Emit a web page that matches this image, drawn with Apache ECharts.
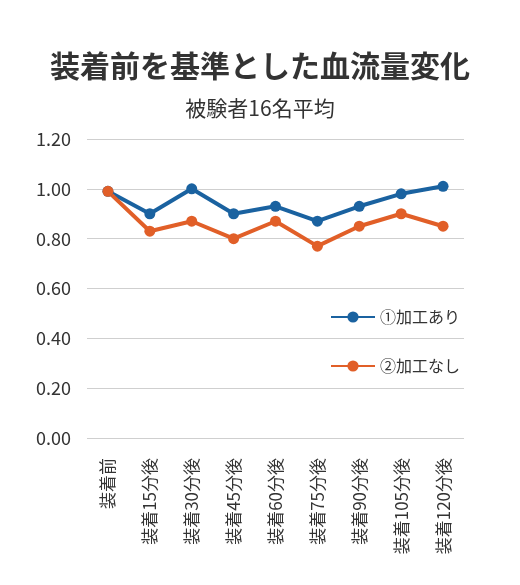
<!doctype html>
<html><head><meta charset="utf-8" />
<style>
  html,body,#app{margin:0;padding:0;width:520px;height:585px;background:#ffffff}
</style>
<script src="https://cdn.jsdelivr.net/npm/echarts@6/dist/echarts.min.js"></script>
</head><body><div id="app"></div>
<script>
const categories = ['装着前','装着15分後','装着30分後','装着45分後','装着60分後','装着75分後','装着90分後','装着105分後','装着120分後'];
const processed = [0.99, 0.90, 1.00, 0.90, 0.93, 0.87, 0.93, 0.98, 1.01];
const unprocessed = [0.99, 0.83, 0.87, 0.80, 0.87, 0.77, 0.85, 0.90, 0.85];
const seriesNames = ['①加工あり', '②加工なし'];

const font = '"Noto Sans CJK JP", "Noto Sans", sans-serif';
const chart = echarts.init(document.getElementById('app'));
chart.setOption({
  backgroundColor: '#ffffff',
  animation: false,
  textStyle: { fontFamily: font },
  title: [
    { text: '装着前を基準とした血流量変化', left: 'center', top: 46,
      textStyle: { fontFamily: font, fontSize: 30, fontWeight: 'bold', color: '#333333' } },
    { text: '被験者16名平均', left: 'center', top: 93,
      textStyle: { fontFamily: font, fontSize: 21, fontWeight: 'normal', color: '#333333' } }
  ],
  legend: {
    orient: 'vertical', left: 325, top: 304, itemGap: 33,
    itemWidth: 44, itemHeight: 14,
    textStyle: { fontFamily: font, fontSize: 16, color: '#333333' },
    data: seriesNames
  },
  grid: { left: 87, right: 56, top: 139, bottom: 147 },
  xAxis: {
    type: 'category', data: categories,
    axisLine: { show: false }, axisTick: { show: false },
    axisLabel: { rotate: 90, color: '#333333', fontSize: 17, margin: 20, fontFamily: font }
  },
  yAxis: {
    type: 'value', min: 0, max: 1.2, interval: 0.2,
    axisLine: { show: false }, axisTick: { show: false },
    axisLabel: { color: '#333333', fontSize: 18, margin: 16, fontFamily: font, formatter: v => v.toFixed(2) },
    splitLine: { lineStyle: { color: '#cfcfcf', width: 1 } }
  },
  series: [
    { name: seriesNames[0], type: 'line', data: processed, symbol: 'circle', symbolSize: 11,
      lineStyle: { color: '#1a62a0', width: 4 }, itemStyle: { color: '#1a62a0' } },
    { name: seriesNames[1], type: 'line', data: unprocessed, symbol: 'circle', symbolSize: 11,
      lineStyle: { color: '#e15f28', width: 4 }, itemStyle: { color: '#e15f28' } }
  ]
});
</script></body></html>
